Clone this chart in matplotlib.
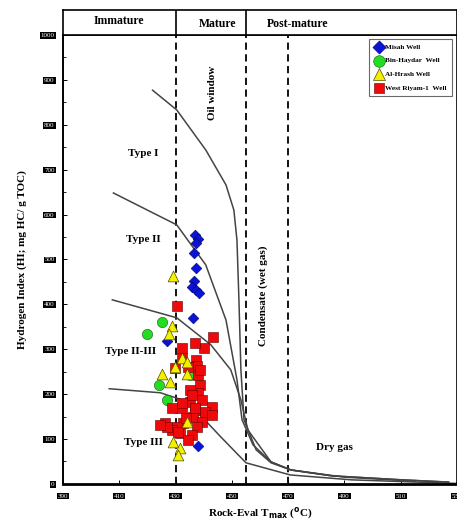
import numpy as np
import matplotlib.pyplot as plt

# ── Curvas de tipo de kerógeno (Tmax, HI) ───────────────────────────
tipo1_t  = [421.8, 430.4, 440.7, 447.9, 450.7, 451.8, 452.5, 453.2, 454.3, 458.6, 463.9, 471.0, 485.4, 510.4, 527.0]
tipo1_hi = [877, 833, 744, 666, 610, 543, 410, 254, 143, 76, 47, 31, 18, 9, 4]

tipo2_t  = [407.9, 430.4, 440.7, 447.9, 451.8, 453.6, 457.5, 463.9, 471.0, 485.4, 510.4, 527.0]
tipo2_hi = [648, 577, 488, 365, 232, 143, 87, 49, 31, 18, 9, 4]

tipo23_t  = [407.5, 430.4, 442.5, 449.6, 453.2, 455.7, 463.9, 471.0, 490.0, 515.0]
tipo23_hi = [410, 370, 310, 254, 187, 120, 49, 31, 15, 6]

tipo3_t  = [406.4, 424.6, 434.3, 446.0, 455.0, 470.7, 492.5, 530.0]
tipo3_hi = [212, 203, 183, 105, 47, 20, 9, 1]

# ── Pozos ───────────────────────────────────────────────────────────
misah_t  = [436.8, 437.9, 437.2, 436.5, 437.2, 436.5, 435.7, 437.2, 438.2, 436.1, 426.9, 437.9]
misah_hi = [555, 546, 537, 514, 481, 452, 439, 432, 425, 370, 318, 85]

haydar_t  = [425.1, 419.8, 424.0, 426.9, 435.0]
haydar_hi = [361, 334, 220, 187, 243]

hrash_t  = [429.0, 428.7, 427.6, 432.2, 434.0, 429.7, 425.1, 427.9, 434.0, 434.0, 429.0, 431.5, 430.8]
hrash_hi = [463, 352, 334, 281, 272, 261, 245, 227, 245, 138, 94, 80, 65]

riyam_t  = [430.4, 443.2, 440.0, 436.8, 432.2, 437.2, 432.2, 437.5, 437.9, 438.6,
            437.9, 439.3, 435.0, 442.8, 432.2, 428.7, 436.8, 440.4, 436.1, 439.3,
            442.8, 432.6, 437.5, 426.2, 430.4, 428.7, 435.7, 431.5, 434.3, 434.3,
            429.7, 432.2, 436.8, 426.9, 430.8, 435.0, 438.6, 433.6, 435.7, 424.4]
riyam_hi = [396, 327, 303, 314, 303, 276, 281, 263, 243, 220,
            203, 187, 183, 171, 169, 169, 165, 160, 149, 138,
            154, 136, 127, 136, 127, 120, 109, 114, 98, 261,
            258, 180, 169, 127, 116, 209, 254, 147, 198, 131]

x_ticks = [390, 410, 430, 450, 470, 490, 510, 530]
y_ticks = list(range(0, 1001, 100))

plt.rcParams['font.family'] = 'Liberation Serif'

fig = plt.figure(figsize=(4.57, 5.22), dpi=100)
ax = fig.add_axes([0.138, 0.073, 0.862, 0.86])
hdr = fig.add_axes([0.138, 0.933, 0.862, 0.048])

# curvas
for tt, hh in [(tipo1_t, tipo1_hi), (tipo2_t, tipo2_hi), (tipo23_t, tipo23_hi), (tipo3_t, tipo3_hi)]:
    ax.plot(tt, hh, color="#444444", lw=1.1, zorder=2)

# líneas de madurez
for xv in [430, 455, 470]:
    ax.axvline(xv, color="black", ls=(0, (4, 2.5)), lw=1.3, zorder=1)

# puntos
ax.scatter(misah_t, misah_hi, marker="D", s=30, color="#0a14d8", edgecolor="#000060", lw=0.4, zorder=3)
ax.scatter(haydar_t, haydar_hi, marker="o", s=55, color="#22dd22", edgecolor="#205020", lw=0.4, zorder=4)
ax.scatter(riyam_t, riyam_hi, marker="s", s=45, color="#ee0a0a", edgecolor="#600000", lw=0.4, zorder=5)
ax.scatter(hrash_t, hrash_hi, marker="^", s=60, color="#f4f000", edgecolor="#505000", lw=0.5, zorder=6)

# leyenda
h1 = ax.scatter([], [], marker="D", s=45, color="#0a14d8", edgecolor="#000060", lw=0.4)
h2 = ax.scatter([], [], marker="o", s=70, color="#22dd22", edgecolor="#205020", lw=0.4)
h3 = ax.scatter([], [], marker="^", s=75, color="#f4f000", edgecolor="#505000", lw=0.5)
h4 = ax.scatter([], [], marker="s", s=60, color="#ee0a0a", edgecolor="#600000", lw=0.4)
leg = ax.legend([h1, h2, h3, h4], ["Misah Well", "Bin-Haydar  Well", "Al-Hrash Well", "West Riyam-1  Well"],
                loc="upper right", bbox_to_anchor=(0.99, 0.995), fancybox=False, edgecolor="#444444",
                prop={'size': 5.2, 'weight': 'bold'}, handletextpad=0.2, borderpad=0.7,
                labelspacing=1.05, handlelength=1.3, borderaxespad=0.2)
leg.get_frame().set_linewidth(0.8)

# textos
txt = dict(fontsize=8, fontweight="bold")
ax.text(418.5, 735, "Type I", ha="center", va="center", **txt)
ax.text(418.5, 545, "Type II", ha="center", va="center", **txt)
ax.text(414.0, 295, "Type II-III", ha="center", va="center", **txt)
ax.text(418.5, 93, "Type III", ha="center", va="center", **txt)
ax.text(443.0, 870, "Oil window", rotation=90, ha="center", va="center", **txt)
ax.text(461.0, 420, "Condensate (wet gas)", rotation=90, ha="center", va="center", **txt)
ax.text(486.5, 82, "Dry gas", ha="center", va="center", **txt)

ax.set_xlim(390, 530)
ax.set_ylim(0, 1000)
ax.set_xticks(x_ticks)
ax.set_yticks(y_ticks)
ax.set_yticks(range(50, 1000, 100), minor=True)
ax.tick_params(axis="both", direction="in", labelsize=5, length=3, width=0.7, labelcolor="white")
ax.tick_params(axis="y", which="minor", direction="in", length=2, width=0.6)
ax.tick_params(axis="x", pad=7)
ax.tick_params(axis="y", pad=6)
for lab in ax.get_xticklabels() + ax.get_yticklabels():
    lab.set_bbox(dict(facecolor="black", edgecolor="none", pad=0.6))

ax.spines["left"].set_linewidth(1.4)
ax.spines["bottom"].set_linewidth(2.0)
ax.spines["top"].set_linewidth(1.2)
ax.spines["right"].set_linewidth(1.2)

ax.set_xlabel("Rock-Eval T$_{\\mathbf{max}}$ ($^{\\mathbf{o}}$C)", fontsize=8, fontweight="bold", labelpad=5)
ax.set_ylabel("Hydrogen Index (HI; mg HC/ g TOC)", fontsize=8, fontweight="bold", labelpad=10)

# franja de madurez
hdr.set_xlim(390, 530)
hdr.set_ylim(0, 1)
hdr.set_xticks([])
hdr.set_yticks([])
for s in hdr.spines.values():
    s.set_linewidth(1.2)
for xv in [430, 455]:
    hdr.axvline(xv, color="black", lw=1.2)
hdr.text(410, 0.55, "Immature", ha="center", va="center", fontsize=8.5, fontweight="bold")
hdr.text(445, 0.45, "Mature", ha="center", va="center", fontsize=8.5, fontweight="bold")
hdr.text(473.5, 0.45, "Post-mature", ha="center", va="center", fontsize=8.5, fontweight="bold")

plt.savefig("out.png", dpi=100)
